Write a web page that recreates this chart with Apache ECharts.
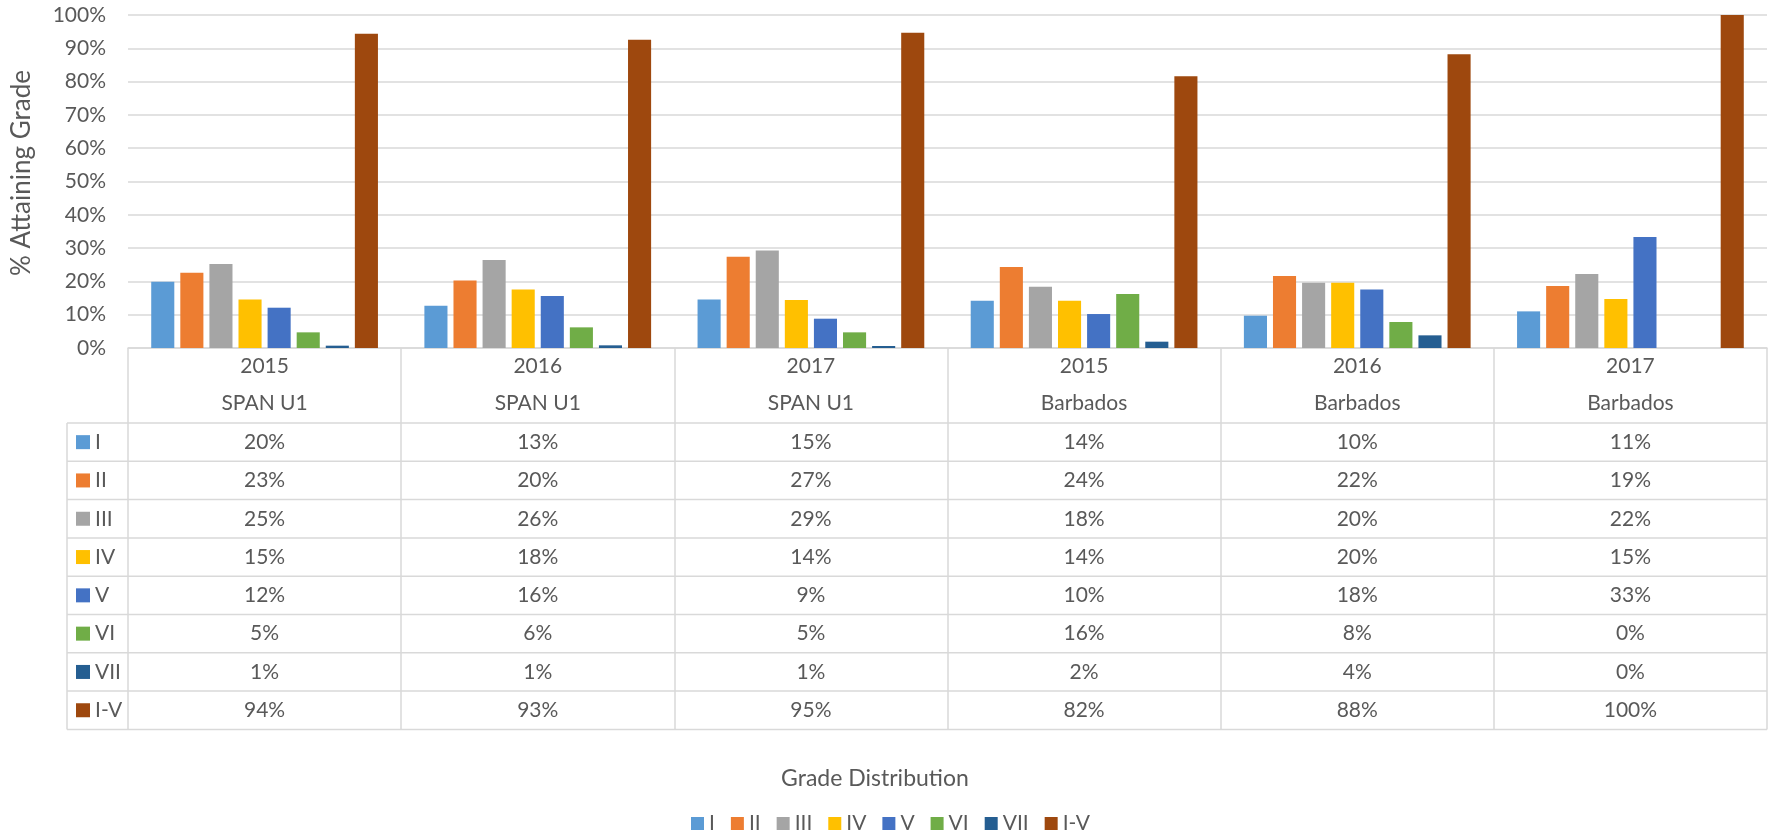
<!DOCTYPE html>
<html>
<head>
<meta charset="utf-8">
<title>Grade Distribution</title>
<script src="https://cdn.jsdelivr.net/npm/echarts@6/dist/echarts.min.js"></script>
<style>
  html, body { margin: 0; padding: 0; background: #fff; }
  #chart { width: 1769px; height: 830px; }
</style>
</head>
<body>
<div id="chart"></div>
<script>
// categories: exam year + centre
var years = ['2015', '2016', '2017', '2015', '2016', '2017']
var centres = ['SPAN U1', 'SPAN U1', 'SPAN U1', 'Barbados', 'Barbados', 'Barbados']
var grades = ['I', 'II', 'III', 'IV', 'V', 'VI', 'VII', 'I-V']

// % attaining each grade (table shows them rounded)
var gradeI = [19.9, 12.7, 14.6, 14.2, 9.7, 11.0]
var gradeII = [22.6, 20.3, 27.4, 24.3, 21.6, 18.6]
var gradeIII = [25.2, 26.4, 29.3, 18.4, 19.6, 22.2]
var gradeIV = [14.6, 17.6, 14.4, 14.2, 19.6, 14.7]
var gradeV = [12.1, 15.6, 8.8, 10.2, 17.6, 33.3]
var gradeVI = [4.7, 6.2, 4.7, 16.2, 7.8, 0]
var gradeVII = [0.7, 0.8, 0.6, 1.9, 3.8, 0]
var gradeItoV = [94.4, 92.6, 94.7, 81.6, 88.2, 100]

// y axis ticks: 0% .. 100% every 10%
var yMin = 0
var yMax = 100
var yStep = 10

var gradeValues = [gradeI, gradeII, gradeIII, gradeIV, gradeV, gradeVI, gradeVII, gradeItoV]
var colors = ['#5b9bd5', '#ed7d31', '#a5a5a5', '#ffc000', '#4472c4', '#70ad47', '#255e91', '#9e480e']

var FONT = 'Lato, "Open Sans", sans-serif'
var TEXT = '#595959'
var LINE = '#d9d9d9'
var HEADER_H = 75 // year + centre rows under the axis
var ROW_H = 38.3
var KEY_LEFT = 67

var chart = echarts.init(document.getElementById('chart'), null, { renderer: 'canvas' })

var categories = years.map(function(y, i) { return y + ' ' + centres[i] })

var series = grades.map(function(g, i) {
  return {
    name: g,
    type: 'bar',
    barGap: '26%',
    barCategoryGap: '17%',
    itemStyle: { color: colors[i] },
    data: gradeValues[i]
  }
})

chart.setOption({
  animation: false,
  color: colors,
  textStyle: { fontFamily: FONT, color: TEXT },
  grid: { left: 128, right: 2, top: 15, bottom: 482, containLabel: false },
  legend: {
    data: grades,
    left: 686,
    top: 808,
    itemWidth: 13,
    itemHeight: 13,
    itemGap: 16,
    icon: 'rect',
    textStyle: { fontFamily: FONT, fontSize: 21, color: TEXT }
  },
  xAxis: {
    type: 'category',
    data: categories,
    axisLine: { lineStyle: { color: LINE, width: 1.5 } },
    axisTick: {
      show: true,
      length: HEADER_H + ROW_H * grades.length,
      lineStyle: { color: LINE, width: 1.5 }
    },
    axisLabel: {
      interval: 0,
      margin: 0,
      formatter: function(value, index) {
        return '{y|' + years[index] + '}\n{n|' + centres[index] + '}'
      },
      rich: {
        y: { fontFamily: FONT, fontSize: 21, color: TEXT, lineHeight: 37 },
        n: { fontFamily: FONT, fontSize: 21, color: TEXT, lineHeight: 37 }
      }
    }
  },
  yAxis: {
    type: 'value',
    min: yMin,
    max: yMax,
    interval: yStep,
    axisLine: { show: false },
    axisTick: { show: false },
    axisLabel: {
      formatter: '{value}%',
      margin: 22,
      fontFamily: FONT,
      fontSize: 21,
      color: TEXT
    },
    splitLine: { lineStyle: { color: LINE, width: 1.5 } }
  },
  series: series
})

// data table under the plot, placed from the axis positions
var c0 = chart.convertToPixel({ xAxisIndex: 0 }, 0)
var c1 = chart.convertToPixel({ xAxisIndex: 0 }, 1)
var colW = c1 - c0
var tableLeft = c0 - colW / 2
var tableRight = tableLeft + colW * categories.length
var yBase = chart.convertToPixel({ yAxisIndex: 0 }, yMin)
var bodyTop = yBase + HEADER_H
var bodyBottom = bodyTop + ROW_H * grades.length

var elements = []

// horizontal rules of the table body
for (var r = 0; r <= grades.length; r++) {
  var ry = bodyTop + r * ROW_H
  elements.push({
    type: 'line',
    shape: { x1: KEY_LEFT, y1: ry, x2: tableRight, y2: ry },
    style: { stroke: LINE, lineWidth: 1.5 }
  })
}
// left edge of the key column
elements.push({
  type: 'line',
  shape: { x1: KEY_LEFT, y1: bodyTop, x2: KEY_LEFT, y2: bodyBottom },
  style: { stroke: LINE, lineWidth: 1.5 }
})

grades.forEach(function(g, r) {
  var cy = bodyTop + (r + 0.5) * ROW_H
  // legend key
  elements.push({
    type: 'rect',
    shape: { x: KEY_LEFT + 9, y: cy - 7, width: 14, height: 14 },
    style: { fill: colors[r] }
  })
  elements.push({
    type: 'text',
    style: {
      text: g, x: KEY_LEFT + 28, y: cy,
      align: 'left', verticalAlign: 'middle',
      textAlign: 'left', textVerticalAlign: 'middle',
      fontFamily: FONT, fontSize: 21, fill: TEXT
    }
  })
  // values
  gradeValues[r].forEach(function(v, i) {
    elements.push({
      type: 'text',
      style: {
        text: Math.round(v) + '%',
        x: chart.convertToPixel({ xAxisIndex: 0 }, i), y: cy,
        align: 'center', verticalAlign: 'middle',
        textAlign: 'center', textVerticalAlign: 'middle',
        fontFamily: FONT, fontSize: 21, fill: TEXT
      }
    })
  })
})

// axis titles
elements.push({
  type: 'text',
  x: 22, y: 173,
  rotation: Math.PI / 2,
  style: {
    text: '% Attaining Grade', x: 0, y: 0,
    align: 'center', verticalAlign: 'middle',
    textAlign: 'center', textVerticalAlign: 'middle',
    fontFamily: FONT, fontSize: 26, fill: TEXT
  }
})
elements.push({
  type: 'text',
  style: {
    text: 'Grade Distribution', x: 875, y: 779,
    align: 'center', verticalAlign: 'middle',
    textAlign: 'center', textVerticalAlign: 'middle',
    fontFamily: FONT, fontSize: 23, fill: TEXT
  }
})

chart.setOption({ graphic: { elements: elements } })
</script>
</body>
</html>
